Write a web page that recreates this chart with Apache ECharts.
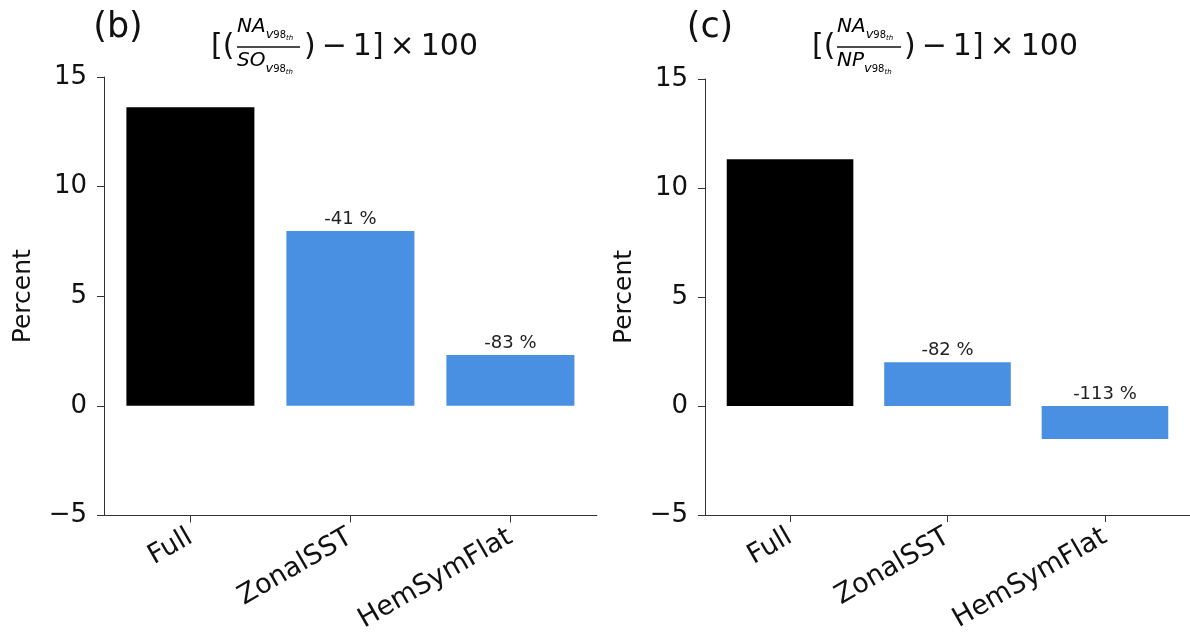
<!DOCTYPE html>
<html><head><meta charset="utf-8">
<script src="https://cdn.jsdelivr.net/npm/echarts@6/dist/echarts.min.js"></script>
<style>html,body{margin:0;padding:0;background:#fff}#c{width:1190px;height:635px}</style>
</head><body><div id="c"></div>
<script>
const categories = ['Full', 'ZonalSST', 'HemSymFlat'];
const valuesB = [13.62, 7.97, 2.32];
const valuesC = [11.32, 2.01, -1.51];
const labelsB = ['', '-41 %', '-83 %'];
const labelsC = ['', '-82 %', '-113 %'];
const barColors = ['#000000', '#4a90e2', '#4a90e2'];
const yTicks = [-5, 0, 5, 10, 15];
const panelTags = ['(b)', '(c)'];
const numerators = ['NA', 'NA'];
const denominators = ['SO', 'NP'];

const FONT = 'DejaVu Sans';
const chart = echarts.init(document.getElementById('c'), null, {renderer: 'canvas'});

function xAxisCfg(gi) {
  return {
    type: 'value', gridIndex: gi, min: -0.54, max: 2.54,
    axisLine: {show: true, onZero: false, lineStyle: {color: '#333', width: 1}},
    axisTick: {show: true, length: 7, customValues: [0, 1, 2], lineStyle: {color: '#333'}},
    axisLabel: {customValues: [0, 1, 2], rotate: 30, margin: 20, fontFamily: FONT, fontSize: 27, color: '#111',
      formatter: v => categories[Math.round(v)]},
    splitLine: {show: false}
  };
}
function yAxisCfg(gi) {
  return {
    type: 'value', gridIndex: gi, min: yTicks[0], max: yTicks[yTicks.length - 1], interval: 5,
    name: 'Percent', nameLocation: 'middle', nameGap: 68, nameRotate: 90,
    nameTextStyle: {fontFamily: FONT, fontSize: 25, color: '#111'},
    axisLine: {show: true, onZero: false, lineStyle: {color: '#333', width: 1}},
    axisTick: {show: true, length: 7, lineStyle: {color: '#333'}},
    axisLabel: {margin: 17, fontFamily: FONT, fontSize: 26, color: '#111',
      formatter: v => String(v).replace('-', '\u2212')},
    splitLine: {show: false}
  };
}
function barSeries(gi, vals, labs, bw) {
  return {
    type: 'bar', xAxisIndex: gi, yAxisIndex: gi, barWidth: bw,
    data: vals.map((v, i) => ({value: [i, v], itemStyle: {color: barColors[i]}})),
    label: {show: true, position: 'top', distance: 3, fontFamily: FONT, fontSize: 18, color: '#222',
      formatter: p => labs[p.dataIndex]},
    clip: false
  };
}

const rich = {
  m: {fontFamily: FONT, fontStyle: 'italic', fontSize: 20, padding: [0, 0, 5, 0], verticalAlign: 'bottom', color: '#111'},
  v: {fontFamily: FONT, fontStyle: 'italic', fontSize: 13, padding: [0, 0, 1, 0], verticalAlign: 'bottom', color: '#111'},
  n: {fontFamily: FONT, fontSize: 10, padding: [0, 0, 2, 0], verticalAlign: 'bottom', color: '#111'},
  t: {fontFamily: FONT, fontStyle: 'italic', fontSize: 7, padding: [0, 0, 0, 0], verticalAlign: 'bottom', color: '#111'}
};
function frac(main) { return '{m|' + main + '}{v|v}{n|98}{t|th}'; }

function titleGraphics(tagX, bx, nx, lineEnd, rx, k) {
  return [
    {type: 'text', x: tagX, y: 28, style: {text: panelTags[k], font: '35px "DejaVu Sans"', fill: '#111', align: 'center', verticalAlign: 'middle'}},
    {type: 'text', x: bx, y: 47, style: {text: '[(', font: '30px "DejaVu Sans"', fill: '#111', align: 'left', verticalAlign: 'middle'}},
    {type: 'text', x: nx, y: 42, style: {text: frac(numerators[k]), rich: rich, align: 'left', verticalAlign: 'bottom'}},
    {type: 'line', shape: {x1: nx, y1: 47, x2: lineEnd, y2: 47}, style: {stroke: '#111', lineWidth: 1.5}},
    {type: 'text', x: nx, y: 76, style: {text: frac(denominators[k]), rich: rich, align: 'left', verticalAlign: 'bottom'}},
    {type: 'text', x: rx, y: 47, style: {text: ')\u2009\u2212\u20091]\u2009\u00d7\u2009100', font: '30px "DejaVu Sans"', fill: '#111', align: 'left', verticalAlign: 'middle'}}
  ];
}

chart.setOption({
  animation: false,
  backgroundColor: '#fff',
  grid: [
    {left: 104, top: 77, width: 492.8, height: 440},
    {left: 705, top: 79, width: 487.6, height: 436}
  ],
  xAxis: [xAxisCfg(0), xAxisCfg(1)],
  yAxis: [yAxisCfg(0), yAxisCfg(1)],
  series: [barSeries(0, valuesB, labelsB, 128), barSeries(1, valuesC, labelsC, 126.6)],
  graphic: titleGraphics(118, 211, 237, 300, 304, 0).concat(titleGraphics(710, 812, 837, 901, 904, 1))
});
</script></body></html>
